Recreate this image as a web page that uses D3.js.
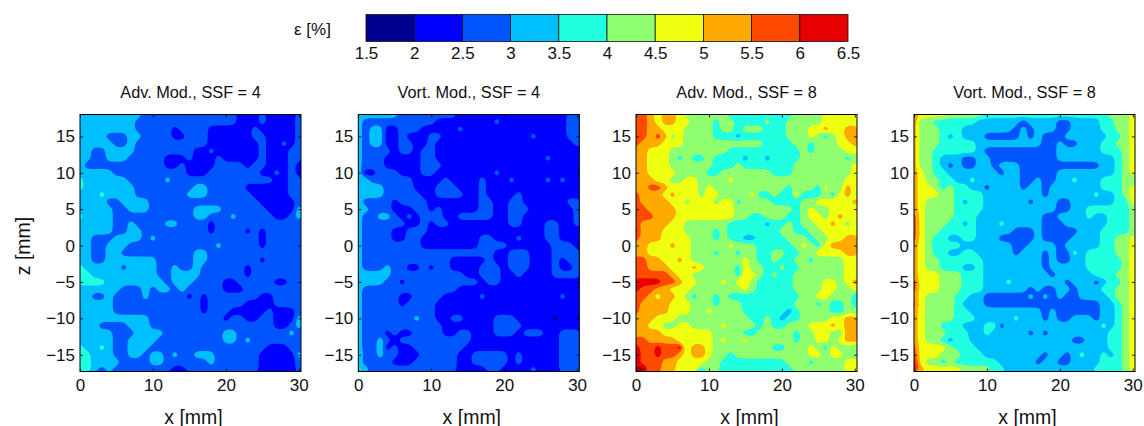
<!DOCTYPE html>
<html><head><meta charset="utf-8">
<script src="https://cdn.jsdelivr.net/npm/d3@7"></script>
<style>html,body{margin:0;background:#fff}svg{display:block}text{font-family:"Liberation Sans",Arial,sans-serif;fill:#111}</style>
</head><body><svg id="c" width="1144" height="426"></svg>
<script>
// Band index for each 1 mm cell: rows z = 18 … -17, columns x = 0 … 30.
// A band index k stands for the band centre value 1.75 + 0.5 k (percent).
const advSsf4 = ["4333333332222222222222111211112","3333333322222222222222111211112","3333333322222122221111112111112","3333222332222112221111112211112","3333322322222222221111111211212","3322333322222222112111111211122","3322333222221112111211111211122","3222222222221121111222212211121","3333322222222221112222222112121","4333333222223222222222222221122","4333333322222222332222211111122","3334333322222223332222221111122","3333223333222222222222222111112","3333322333222222333322222211113","4333322222222222332223222221123","3333322322223322221222222222222","3333322332222222221222212122222","3322233332322222222222222122222","3322333222222222222322222122222","3322332222222222332222222222222","3322333333322222332222222122222","4333332333322322322222212222222","4433333333322333322222212222222","4444333333332333222211222221122","3333332223233232222211122222222","3322322223222221212222222112222","3333322222222222212222211112222","3333322222222222212221111121112","3333333333222222222212211221113","3332222333222222222222222221123","3333322233332222222233222222232","3333322333322222222233232222222","4334322333222222222222222211122","4433322332332322333222222111113","4433332222332222223222222111112","4432322222222112222222222111112"];
const vortSsf4 = ["4333332222222211111111111111122","3222222222211111111211111111122","3233112221111121111111111111122","3233112111221111111111112111122","3233112211211111111111111111112","3222212212211111111111111111111","3222111112211111111111111121111","3222111112221111111111111111111","3112221112211111111211111111111","3322222211112111121112111121211","3333222211122211121111111111111","3333222221122221121111211111111","3222212222111111122112211111122","3322211122121111122112221111112","3223321212221122222112211111112","3222222112122111111112211122112","3222211222111111111111111122111","3222211221111111122111211122111","3222222221111111122221111112221","3222222222222222222112221112222","3222222222222111112112221112122","3222322112122111122212221112112","3333322222222221122211211112222","3333221222222222212211111111111","3222222222222211111111111111111","3222221122221111121111111111211","3222221222211111111111111111111","3222222222211111111111111111111","3222222232211221111222111110111","3222222222221111111222211111111","3222121122221122111222122211222","3223212222222222111111111111222","3223121122222221111111111111222","4223221112222211222221211111222","3222211122222211222221211111222","4322222222222211112211112111222"];
const advSsf8 = ["8876776555555444444444555566666","8876776655545544445445555566666","8877666555545545554445556676677","8878756555544434444445556545677","8777666555555555554444554555667","7766655555555444444444454555566","7766654544544443443444455555545","7766655555544454444444555555556","7766665555445555555444555555556","7776655665555655555555555555566","7788766665655555555554555465576","8777676665665555644544644454676","8777766566656645555444455666667","8877776666666655555555456556666","8887776666666655445554456656766","8777766555555444443445455667656","9777666555545444444455445566666","8777666655545443344445554556677","7766676655555655544444565467777","7766666655545545544554455666677","8877667655555556544544554555566","8877766676555546554454455555566","8888876655555546654544555555566","9999887665556566544444555566567","9887766655555556544444555566556","8876776545545444444444455665554","8777766655545554444444555454454","8777766655655554444443455554455","7776665555555555445434455556677","7766556655556555545445556667677","7777666666655554455555455665577","8877776666656556555555455665677","9889889677655555555445556546555","a889887677655455555555556656655","9888776666554444444445554555566","aa88776664554444444444555555566"];
const vortSsf8 = ["8666655555444444444444444445556","7554444443333332333322333344556","7555444333333323233322333344556","7555434333222223232223333334456","7555444443333333332232233344556","7554444443222222222233333344456","7554333223322222222233333333456","7554323223323332222222222233456","7654433333332332222233333333456","7655443343333332232233433344455","7665454433233332332333333344456","7666554444333333332333333433456","7655554344333333233322333333446","7655554444333333333322334444445","8655554443333333332233334334445","8655544343334333332223333334445","8655444443333322232222233344445","8654433443332222232222333344556","7654444333333322333323333344556","7654433443333323332322434444556","7655444444333333332322334444456","7655444334333333332333334444456","7666555444333333333233333444556","8666555444333433333332333234456","8666555444333333232233233344556","7655554433222222323232233334556","8655554333222222222222222233456","7655554433333333332322222233456","7655554443333343332322333233456","7655444333442333333333333343456","7655544433433333232333333334456","7655434433333333333333223334456","8666654443333333333333333334456","8666555444333333332332343343456","9655454444443333323322333344456","9766666555544333333333333444456"];

const panelTitles = ["Adv. Mod., SSF = 4","Vort. Mod., SSF = 4","Adv. Mod., SSF = 8","Vort. Mod., SSF = 8"];
const panelRows = [advSsf4, vortSsf4, advSsf8, vortSsf8];
const panelLefts = [80, 358.3, 636, 914];
const bandEdges = [1.5,2,2.5,3,3.5,4,4.5,5,5.5,6,6.5];
const bandLabels = ["1.5","2","2.5","3","3.5","4","4.5","5","5.5","6","6.5"];
const bandColors = ["#00008f","#0000ff","#0055ff","#00bfff","#20ffdf","#8fff70","#efff10","#ffaa00","#ff4a00","#e60000","#a00000"];
const xTicks = [0,10,20,30];
const zTicks = [15,10,5,0,-5,-10,-15];
const nx = 31, nz = 36, zTop = 18;

const svg = d3.select("#c");
const W = 221, T = 114.5, H = 257;
const fmt = d => String(d).replace("-", "\u2212");

const contours = d3.contours().size([nx, nz]).thresholds(bandEdges);
const ringLine = d3.line().curve(d3.curveBasisClosed);

panelRows.forEach((rows, p) => {
  const left = panelLefts[p];
  const x = d3.scaleLinear().domain([0, 30.3]).range([left, left + W]);
  const z = d3.scaleLinear().domain([18, -17.3]).range([T, T + H]);
  const values = rows.flatMap(r => Array.from(r.padEnd(nx, r[r.length-1]).slice(0, nx), c => 1.75 + 0.5 * parseInt(c, 36)));
  const id = "clip" + p;
  svg.append("clipPath").attr("id", id).append("rect").attr("x", left).attr("y", T).attr("width", W).attr("height", H);
  const g = svg.append("g").attr("clip-path", `url(#${id})`);
  g.append("rect").attr("x", left).attr("y", T).attr("width", W).attr("height", H).attr("fill", bandColors[0]);
  g.selectAll("path").data(contours(values)).join("path")
    .attr("fill", (d, i) => bandColors[i])
    .attr("fill-rule", "evenodd")
    .attr("d", d => d.coordinates.flatMap(poly => poly.map(ring =>
      ringLine(ring.slice(0, -1).map(([cx, cy]) => [x(cx - 0.5), z(zTop - (cy - 0.5))])))).join(""));

  const tick = 3;
  const gx = svg.append("g").attr("transform", `translate(0,${T + H})`)
    .call(d3.axisBottom(x).tickValues(xTicks).tickSize(-tick).tickSizeOuter(0).tickPadding(7));
  const gt = svg.append("g").attr("transform", `translate(0,${T})`)
    .call(d3.axisTop(x).tickValues(xTicks).tickSize(-tick).tickSizeOuter(0).tickFormat(""));
  const gy = svg.append("g").attr("transform", `translate(${left},0)`)
    .call(d3.axisLeft(z).tickValues(zTicks).tickSize(-tick).tickSizeOuter(0).tickPadding(5).tickFormat(fmt));
  const gr = svg.append("g").attr("transform", `translate(${left + W},0)`)
    .call(d3.axisRight(z).tickValues(zTicks).tickSize(-tick).tickSizeOuter(0).tickFormat(""));
  [gx, gt, gy, gr].forEach(a => {
    a.select(".domain").remove();
    a.selectAll("line").attr("stroke", "#000").attr("stroke-width", 0.8);
    a.selectAll("text").attr("font-size", 17).attr("font-family", '"Liberation Sans",Arial,sans-serif').attr("fill", "#111");
  });
  svg.append("rect").attr("x", left).attr("y", T).attr("width", W).attr("height", H)
    .attr("fill", "none").attr("stroke", "#000").attr("stroke-width", 1);
  svg.append("text").attr("x", left + W / 2).attr("y", 98).attr("text-anchor", "middle").attr("font-size", 16.3).text(panelTitles[p]);
  svg.append("text").attr("x", left + W / 2 + 3).attr("y", 424).attr("text-anchor", "middle").attr("font-size", 19.5).text("x [mm]");
});

svg.append("text").attr("transform", "translate(30,246) rotate(-90)").attr("text-anchor", "middle").attr("font-size", 19.5).text("z [mm]");

// colour bar
const cb = d3.scaleLinear().domain([1.5, 6.5]).range([366, 848]);
const cbTop = 14.5, cbH = 27;
svg.selectAll("rect.band").data(bandEdges.slice(0, -1)).join("rect").attr("class", "band")
  .attr("x", d => cb(d)).attr("y", cbTop).attr("width", d => cb(d + 0.5) - cb(d)).attr("height", cbH)
  .attr("fill", (d, i) => bandColors[i]).attr("stroke", "#111").attr("stroke-width", 0.8);
const gc = svg.append("g").attr("transform", `translate(0,${cbTop + cbH})`)
  .call(d3.axisBottom(cb).tickValues(bandEdges).tickFormat((d, i) => bandLabels[i]).tickSize(0).tickPadding(5));
gc.select(".domain").remove();
gc.selectAll("text").attr("font-size", 17).attr("font-family", '"Liberation Sans",Arial,sans-serif').attr("fill", "#111");
svg.append("text").attr("x", 294).attr("y", 35).attr("font-size", 17).attr("font-family", '"Liberation Serif",serif').text("ε [%]");
</script></body></html>
